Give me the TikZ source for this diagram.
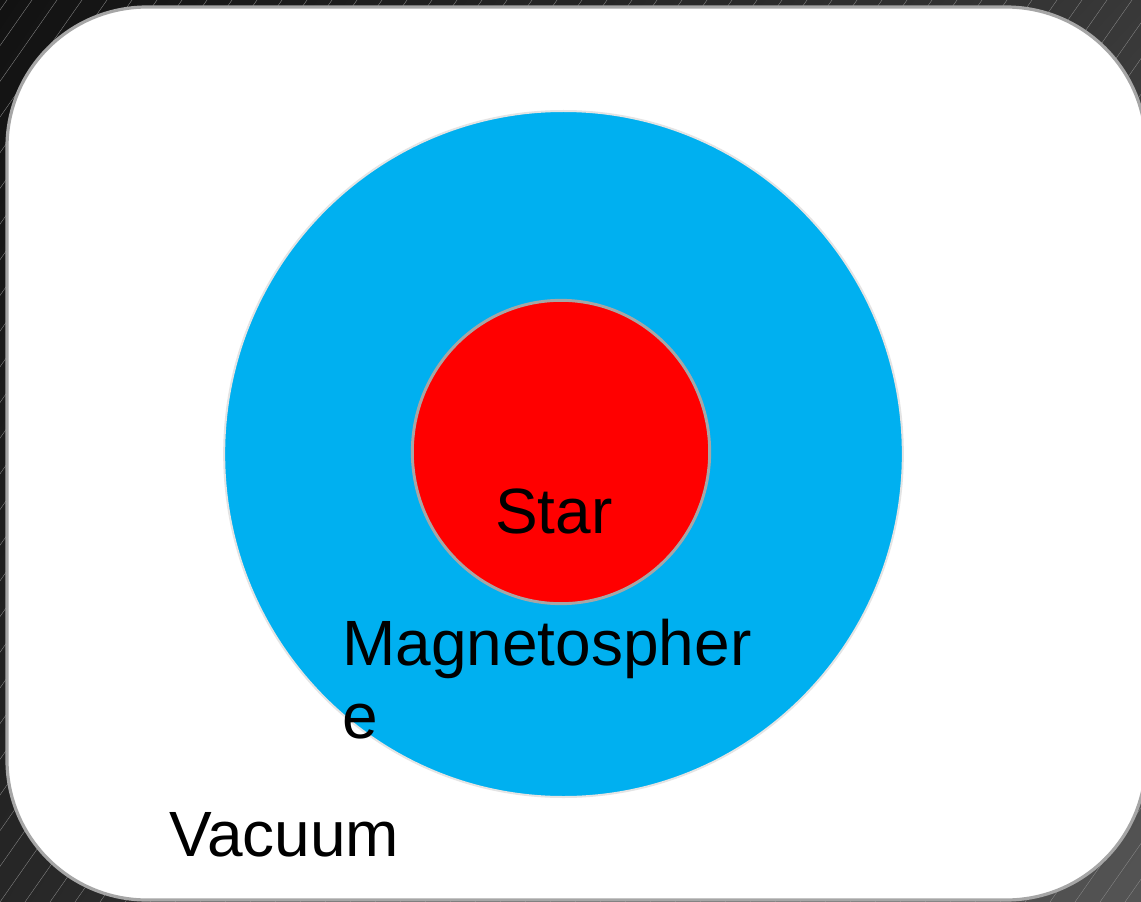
\documentclass[tikz,border=0pt]{standalone}
\usepackage{fontspec}
\setmainfont{Liberation Sans}
\usetikzlibrary{positioning, shapes.geometric, shadings}
\definecolor{skyblue}{HTML}{00B0F0}
\definecolor{starred}{HTML}{FF0000}
\definecolor{rimgray}{HTML}{A6A6A6}
\definecolor{haloGray}{HTML}{E4E4E4}

\begin{document}
\begin{tikzpicture}[
    x=0.75pt, y=-0.75pt,
    % Shape styles
    panel/.style={fill=white, draw=rimgray, line width=2.4pt, rounded corners=105pt},
    magneto/.style={ellipse, fill=skyblue, draw=haloGray, line width=1.5pt, minimum width=509pt, minimum height=514.5pt, inner sep=0pt},
    star/.style={ellipse, fill=starred, draw=rimgray, line width=2.2pt, minimum width=223pt, minimum height=227.5pt, inner sep=0pt},
    % Text styles
    label/.style={font=\fontsize{48}{54.75}\selectfont, text=black, inner sep=0pt, align=left}
]
\useasboundingbox (0,0) rectangle (1141,902);
% Background
\shade[upper left=black!93, upper right=black!78, lower left=black!85, lower right=black!67] (0,0) rectangle (1141,902);
\begin{scope}
\clip (0,0) rectangle (1141,902);
\foreach \i in {-30,...,50}
  \draw[white!55!black, line width=0.25pt] (\i*25,902) -- (\i*25+632,0);
\end{scope}
% Panel
\draw[panel] (7,7) rectangle (1146,900);
% Circles
\node[magneto] (sphere) at (563.5,454) {};
\node[star] (core) at (561,452) {};
% Labels
\node[label, anchor=base west] (starlbl) at (495,533) {Star};
\node[label, anchor=base west] (spherelbl) at (342,738) {Magnetospher\\e};
\node[label, anchor=base west] (vaclbl) at (169,856) {Vacuum};
\end{tikzpicture}
\end{document}
